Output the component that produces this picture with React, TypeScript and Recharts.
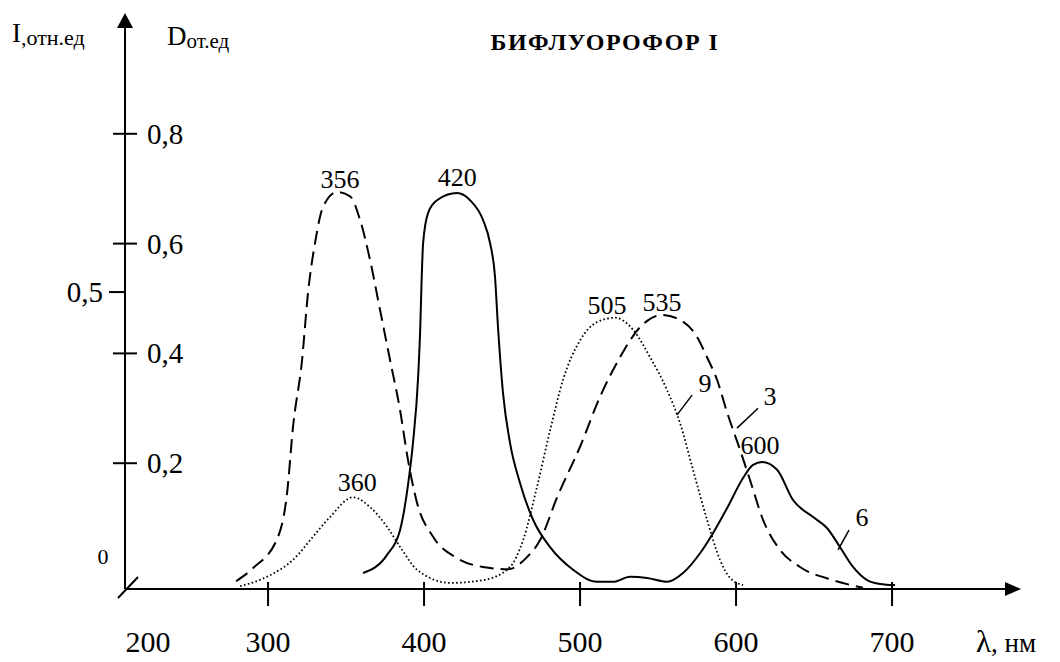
import { LineChart, Line, XAxis, YAxis, ReferenceDot, ReferenceLine } from 'recharts';

const FONT = "'Liberation Serif', 'DejaVu Serif', 'Times New Roman', Times, serif";

// curve 3 (dashed) - absorption, wavelength in nm / D
const curve3Nm = [279.5, 290.4, 306.4, 312.2, 316.0, 321.8, 325.6, 330.1, 335.3, 344.2, 352.6, 359.0, 365.4, 371.8, 378.2, 384.6, 389.7, 395.5, 405.8, 421.2, 437.8, 453.8, 466.0, 474.4, 485.3, 500.0, 512.8, 525.6, 538.5, 552.6, 564.1, 575.0, 581.4, 587.8, 594.2, 602.6, 609.0, 617.3, 628.2, 641.0, 662.2, 681.4];
const curve3D = [-0.015, 0.009, 0.066, 0.146, 0.266, 0.388, 0.51, 0.601, 0.667, 0.694, 0.686, 0.643, 0.57, 0.479, 0.388, 0.297, 0.206, 0.128, 0.066, 0.027, 0.011, 0.007, 0.029, 0.06, 0.138, 0.23, 0.321, 0.393, 0.448, 0.47, 0.461, 0.43, 0.393, 0.352, 0.293, 0.224, 0.169, 0.097, 0.042, 0.011, -0.013, -0.027];

// curve 9 (dotted)
const curve9Nm = [282.1, 301.3, 316.0, 328.8, 339.7, 354.5, 365.4, 376.3, 385.9, 395.5, 416.7, 437.8, 455.1, 463.5, 472.4, 480.8, 489.1, 500.0, 510.9, 522.4, 534.0, 544.9, 555.8, 564.1, 572.4, 581.4, 589.7, 596.2, 604.5];
const curve9D = [-0.024, -0.004, 0.024, 0.066, 0.102, 0.138, 0.12, 0.084, 0.042, 0.006, -0.018, -0.013, 0.011, 0.06, 0.157, 0.26, 0.352, 0.424, 0.457, 0.465, 0.443, 0.393, 0.333, 0.273, 0.188, 0.097, 0.024, -0.009, -0.022];

// curve 6 (solid) - fluorescence
const curve6Nm = [360.9, 376.3, 384.6, 389.7, 392.9, 396.2, 397.6, 398.4, 399.4, 402.6, 408.3, 421.2, 429.5, 437.8, 442.3, 445.5, 447.4, 450.6, 455.1, 461.5, 469.9, 480.8, 495.5, 510.9, 521.2, 532.1, 542.9, 555.8, 566.0, 576.9, 585.3, 594.2, 604.5, 610.9, 616.7, 626.3, 636.5, 649.4, 658.3, 666.7, 675.0, 684.0, 692.3, 701.9];
const curve6D = [0, 0.033, 0.078, 0.16, 0.237, 0.357, 0.45, 0.53, 0.601, 0.656, 0.679, 0.692, 0.679, 0.643, 0.601, 0.539, 0.448, 0.328, 0.237, 0.164, 0.097, 0.047, 0.006, -0.016, -0.016, -0.007, -0.009, -0.016, 0, 0.036, 0.073, 0.118, 0.173, 0.197, 0.202, 0.188, 0.133, 0.102, 0.082, 0.047, 0.011, -0.013, -0.02, -0.022];

const xTicks = [300, 400, 500, 600, 700];
const originLabel = '200';
const dTicks = [0.2, 0.4, 0.6, 0.8];
const iTicks = [0, 0.5];

const peakLabels = [
  { text: '356', nm: 346.2, d: 0.716 },
  { text: '360', nm: 357.1, d: 0.164 },
  { text: '420', nm: 421.2, d: 0.721 },
  { text: '505', nm: 517.3, d: 0.488 },
  { text: '535', nm: 552.6, d: 0.492 },
  { text: '600', nm: 615.4, d: 0.233 },
  { text: '9', nm: 580.1, d: 0.346 },
  { text: '3', nm: 621.8, d: 0.321 },
  { text: '6', nm: 680.8, d: 0.102 },
];

const leaders = [
  [{ x: 562.2, y: 0.288 }, { x: 571.8, y: 0.324 }],
  [{ x: 600.6, y: 0.264 }, { x: 614.1, y: 0.3 }],
  [{ x: 665.4, y: 0.042 }, { x: 672.4, y: 0.078 }],
];

const X_DOMAIN = [208.3, 772.4];
const D_DOMAIN = [-0.0291, 0.9927];
const I_DOMAIN = [-0.0285, 0.97];

const zip = (xs: number[], ys: number[]) => xs.map((nm, i) => ({ nm, v: ys[i] }));
const fmt = (v: number) => String(v).replace('.', ',');
const txt = { fontFamily: FONT, fill: '#000' };

const XTick = ({ x, y, payload }: any) => (
  <g>
    <line x1={x} y1={y - 7} x2={x} y2={y + 17} stroke="#000" strokeWidth={2} />
    <text x={x} y={y + 63} textAnchor="middle" fontSize={30} style={txt}>
      {payload.value}
    </text>
  </g>
);

const DTick = ({ x, y, payload }: any) => (
  <g>
    <line x1={x - 12} y1={y} x2={x + 12} y2={y} stroke="#000" strokeWidth={2} />
    <text x={x + 22} y={y} dominantBaseline="central" fontSize={29} style={txt}>
      {fmt(payload.value)}
    </text>
  </g>
);

const ITick = ({ x, y, payload }: any) =>
  payload.value === 0 ? (
    <text x={x - 23} y={y - 16} textAnchor="middle" dominantBaseline="central" fontSize={22} style={txt}>
      0
    </text>
  ) : (
    <g>
      <line x1={x - 17} y1={y} x2={x} y2={y} stroke="#000" strokeWidth={2} />
      <text x={x - 23} y={y} textAnchor="end" dominantBaseline="central" fontSize={29} style={txt}>
        {fmt(payload.value)}
      </text>
    </g>
  );

export default function App() {
  return (
    <div style={{ position: 'absolute', left: 0, top: 0, width: 1060, height: 662, background: '#fff' }}>
      <LineChart width={1060} height={662} margin={{ top: 28, right: 55, bottom: 13, left: 125 }}>
        <XAxis
          type="number"
          dataKey="nm"
          domain={X_DOMAIN}
          allowDataOverflow
          ticks={xTicks}
          height={60}
          tickSize={0}
          tickMargin={0}
          tickLine={false}
          axisLine={{ stroke: '#000', strokeWidth: 2 }}
          tick={<XTick />}
          interval={0}
        />
        <YAxis
          yAxisId="d"
          type="number"
          domain={D_DOMAIN}
          allowDataOverflow
          ticks={dTicks}
          mirror
          width={1}
          tickSize={0}
          tickMargin={0}
          tickLine={false}
          axisLine={{ stroke: '#000', strokeWidth: 2 }}
          tick={<DTick />}
          interval={0}
        />
        <YAxis
          yAxisId="i"
          type="number"
          domain={I_DOMAIN}
          allowDataOverflow
          ticks={iTicks}
          mirror
          width={1}
          tickSize={0}
          tickMargin={0}
          tickLine={false}
          axisLine={false}
          tick={<ITick />}
          interval={0}
        />
        <Line yAxisId="d" data={zip(curve3Nm, curve3D)} dataKey="v" type="monotone" stroke="#000" strokeWidth={2} strokeDasharray="14 7" dot={false} isAnimationActive={false} />
        <Line yAxisId="d" data={zip(curve9Nm, curve9D)} dataKey="v" type="monotone" stroke="#000" strokeWidth={1.8} strokeDasharray="1.6 2.4" dot={false} isAnimationActive={false} />
        <Line yAxisId="d" data={zip(curve6Nm, curve6D)} dataKey="v" type="monotone" stroke="#000" strokeWidth={2} dot={false} isAnimationActive={false} />
        {leaders.map((seg, i) => (
          <ReferenceLine key={`l${i}`} yAxisId="d" segment={seg} stroke="#000" strokeWidth={1.5} ifOverflow="visible" />
        ))}
        {peakLabels.map((p) => (
          <ReferenceDot
            key={p.text}
            yAxisId="d"
            x={p.nm}
            y={p.d}
            ifOverflow="visible"
            shape={(s: any) => (
              <text x={s.cx} y={s.cy} textAnchor="middle" dominantBaseline="central" fontSize={26} style={txt}>
                {p.text}
              </text>
            )}
          />
        ))}
        {/* arrows, axis break and the "200" label at the origin */}
        <ReferenceDot yAxisId="d" x={X_DOMAIN[1]} y={D_DOMAIN[0]} ifOverflow="visible"
          shape={(s: any) => <polygon points={`${s.cx},${s.cy - 7} ${s.cx + 16},${s.cy} ${s.cx},${s.cy + 7}`} fill="#000" />} />
        <ReferenceDot yAxisId="d" x={X_DOMAIN[0]} y={D_DOMAIN[1]} ifOverflow="visible"
          shape={(s: any) => <polygon points={`${s.cx - 8},${s.cy} ${s.cx},${s.cy - 15} ${s.cx + 8},${s.cy}`} fill="#000" />} />
        <ReferenceDot yAxisId="d" x={X_DOMAIN[0]} y={D_DOMAIN[0]} ifOverflow="visible"
          shape={(s: any) => (
            <g>
              <line x1={s.cx - 7} y1={s.cy + 9} x2={s.cx + 13} y2={s.cy - 12} stroke="#000" strokeWidth={2} />
              <text x={s.cx + 23} y={s.cy + 63} textAnchor="middle" fontSize={30} style={txt}>
                {originLabel}
              </text>
            </g>
          )} />
      </LineChart>
      <svg width={1060} height={662} style={{ position: 'absolute', left: 0, top: 0, pointerEvents: 'none' }}>
        <text x={12} y={42} style={txt}>
          <tspan fontSize={27}>I</tspan>
          <tspan fontSize={22} dy={3}>,отн.ед</tspan>
        </text>
        <text x={167} y={45} style={txt}>
          <tspan fontSize={27}>D</tspan>
          <tspan fontSize={21} dy={3}>от.ед</tspan>
        </text>
        <text x={605} y={50} textAnchor="middle" fontSize={24} fontWeight="bold" letterSpacing={1.5} style={txt}>
          БИФЛУОРОФОР I
        </text>
        <text x={976} y={652} style={txt}>
          <tspan fontSize={31}>λ</tspan>
          <tspan fontSize={27}>, нм</tspan>
        </text>
      </svg>
    </div>
  );
}
